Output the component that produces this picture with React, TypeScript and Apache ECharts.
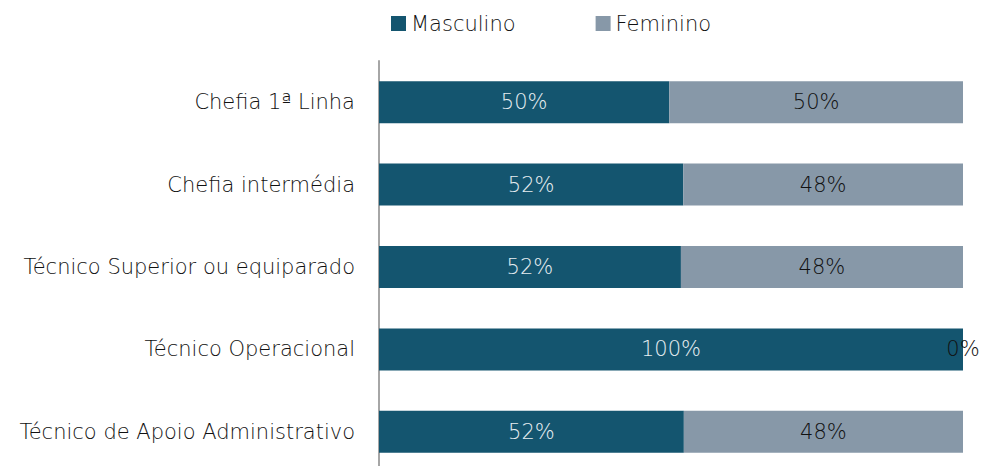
import React, { useEffect, useRef } from "react";
import * as echarts from "echarts";

const categories = [
  "Chefia 1ª Linha",
  "Chefia intermédia",
  "Técnico Superior ou equiparado",
  "Técnico Operacional",
  "Técnico de Apoio Administrativo",
];
const masculino = [0.497, 0.521, 0.517, 1.0, 0.522];
const feminino = [0.503, 0.479, 0.483, 0.0, 0.478];

const FONT = "DejaVu Sans";

export default function App() {
  const ref = useRef<HTMLDivElement>(null);
  useEffect(() => {
    document.body.style.margin = "0";
    const chart = echarts.init(ref.current!, null, { renderer: "svg" });
    const fmt = (p: any) => Math.round(p.value * 100) + "%";
    chart.setOption({
      animation: false,
      legend: {
        top: 13,
        left: 391,
        padding: 0,
        itemWidth: 15,
        itemHeight: 15,
        itemGap: 80,
        icon: "rect",
        textStyle: { fontFamily: FONT, fontSize: 21, color: "#111111", fontWeight: 200 },
        data: ["Masculino", "Feminino"],
      },
      grid: { left: 379, right: 18, top: 61, bottom: 17, containLabel: false },
      xAxis: { type: "value", min: 0, max: 1, show: false },
      yAxis: {
        type: "category",
        inverse: true,
        data: categories,
        axisLine: { show: true, lineStyle: { color: "#A6A6A6", width: 2 } },
        axisTick: { show: false },
        axisLabel: { margin: 24, fontFamily: FONT, fontSize: 21, color: "#111111", fontWeight: 200 },
      },
      series: [
        {
          name: "Masculino",
          type: "bar",
          stack: "total",
          data: masculino,
          barWidth: "51%",
          itemStyle: { color: "#14556F" },
          label: { show: true, position: "inside", formatter: fmt, fontFamily: FONT, fontSize: 21, color: "#E6EDF1", fontWeight: 200 },
        },
        {
          name: "Feminino",
          type: "bar",
          stack: "total",
          data: feminino,
          barWidth: "51%",
          itemStyle: { color: "#8798A8" },
          label: { show: true, position: "inside", formatter: fmt, fontFamily: FONT, fontSize: 21, color: "#111111", fontWeight: 200 },
        },
      ],
    });
    return () => chart.dispose();
  }, []);
  return <div ref={ref} style={{ width: 981, height: 490 }} />;
}
